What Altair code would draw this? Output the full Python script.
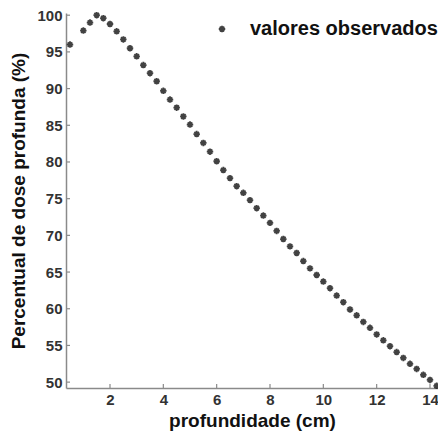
import altair as alt
import pandas as pd

depth_cm = [0.5, 1.0, 1.25, 1.5, 1.75, 2.0, 2.25, 2.5, 2.75, 3.0, 3.25, 3.5, 3.75,
            4.0, 4.25, 4.5, 4.75, 5.0, 5.25, 5.5, 5.75, 6.0, 6.25, 6.5, 6.75,
            7.0, 7.25, 7.5, 7.75, 8.0, 8.25, 8.5, 8.75, 9.0, 9.25, 9.5, 9.75,
            10.0, 10.25, 10.5, 10.75, 11.0, 11.25, 11.5, 11.75, 12.0, 12.25,
            12.5, 12.75, 13.0, 13.25, 13.5, 13.75, 14.0, 14.25]
pdd_pct = [96.0, 97.9, 99.0, 100.0, 99.6, 98.8, 97.8, 96.7, 95.5, 94.4, 93.2, 92.1, 91.0,
           89.7, 88.5, 87.4, 86.2, 85.1, 83.8, 82.6, 81.4, 80.1, 78.9, 77.8, 76.7,
           75.8, 74.8, 73.7, 72.7, 71.7, 70.6, 69.5, 68.5, 67.6, 66.5, 65.5, 64.6,
           63.7, 62.8, 61.8, 60.9, 59.9, 59.1, 58.2, 57.4, 56.5, 55.7,
           54.9, 54.1, 53.3, 52.5, 51.8, 51.0, 50.3, 49.5]
series_name = "valores observados"
x_ticks = [2, 4, 6, 8, 10, 12, 14]
y_ticks = [50, 55, 60, 65, 70, 75, 80, 85, 90, 95, 100]

df = pd.DataFrame({"x": depth_cm, "y": pdd_pct, "serie": series_name})
xt = pd.DataFrame({"x": x_ticks})
yt = pd.DataFrame({"y": y_ticks})

FONT = "Liberation Sans"
W, H = 372, 375
xscale = alt.Scale(domain=[0.35, 14.3], nice=False, zero=False)
yscale = alt.Scale(domain=[49.2, 100.3], nice=False, zero=False)
xaxis = alt.Axis(values=x_ticks, title="profundidade (cm)", ticks=False,
                 labelPadding=4, titlePadding=4, grid=False, labelOverlap=False)
yaxis = alt.Axis(values=y_ticks, title="Percentual de dose profunda (%)", ticks=False,
                 labelPadding=4, titlePadding=8, grid=False, labelOverlap=False)
ASTER = "M-1,0L1,0M0,-1L0,1M-0.7,-0.7L0.7,0.7M-0.7,0.7L0.7,-0.7"

points = alt.Chart(df).mark_point(shape=ASTER, filled=False, size=42, strokeWidth=1.8, opacity=0.85).encode(
    x=alt.X("x:Q", scale=xscale, axis=xaxis),
    y=alt.Y("y:Q", scale=yscale, axis=yaxis),
    color=alt.Color("serie:N", scale=alt.Scale(range=["#222222"]),
                    legend=alt.Legend(title=None, orient="none", legendX=146, legendY=6,
                                      symbolType=ASTER, symbolSize=42, symbolStrokeWidth=1.8,
                                      symbolStrokeColor="#333333", labelOffset=18, labelLimit=400,
                                      labelFont=FONT, labelFontSize=20, labelFontWeight="bold",
                                      labelColor="#111111", padding=0)),
)

xtick = alt.Chart(xt).mark_rule(color="#8a8a8a", strokeWidth=1.2).encode(
    x=alt.X("x:Q", scale=xscale, axis=xaxis), y=alt.value(H), y2=alt.value(H - 4))
ytick = alt.Chart(yt).mark_rule(color="#8a8a8a", strokeWidth=1.2).encode(
    y=alt.Y("y:Q", scale=yscale, axis=yaxis), x=alt.value(0), x2=alt.value(4))

chart = alt.layer(points, xtick, ytick).properties(
    width=W, height=H,
    autosize=alt.AutoSizeParams(type="none"),
    padding={"left": 66, "top": 13, "right": 0, "bottom": 44},
).configure_view(stroke=None).configure_axis(
    domainColor="#8a8a8a", domainWidth=1.5,
    labelFont=FONT, labelFontSize=15, labelFontWeight="bold", labelColor="#333333",
    titleFont=FONT, titleFontSize=19, titleFontWeight="bold", titleColor="#111111",
)

chart.save("out.html", embed_options={"renderer": "svg", "actions": False})
